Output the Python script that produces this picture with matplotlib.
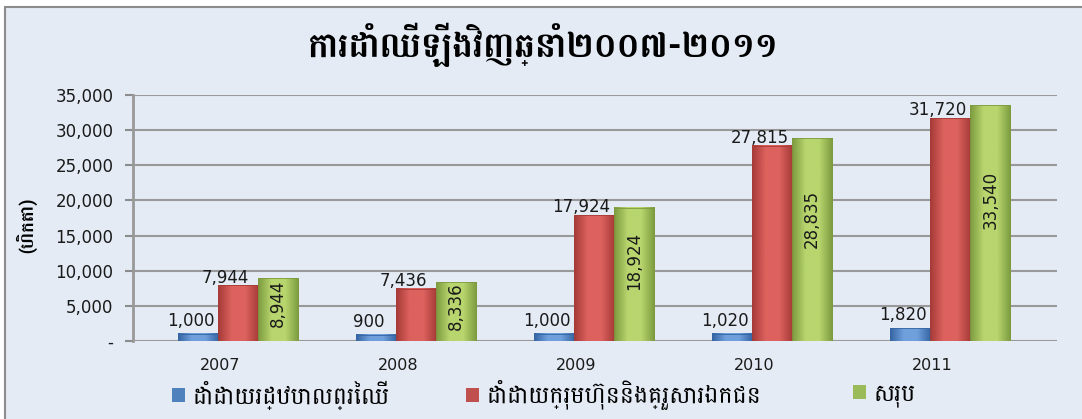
import numpy as np
import matplotlib
matplotlib.use("Agg")
import matplotlib.pyplot as plt
from matplotlib import font_manager
from matplotlib.ft2font import FT2Font
from matplotlib.colors import LinearSegmentedColormap
from matplotlib.patches import Rectangle

# data
years = ["2007", "2008", "2009", "2010", "2011"]
state = [1000, 900, 1000, 1020, 1820]
private = [7944, 7436, 17924, 27815, 31720]
total = [8944, 8336, 18924, 28835, 33540]
series_names = ["ដាំដោយរដ្ឋបាលព្រៃឈើ", "ដាំដោយក្រុមហ៊ុននិងគ្រួសារឯកជន", "សរុប"]
title = "ការដាំឈើឡើងវិញឆ្នាំ២០០៧-២០១១"
ylabel = "(ហិកតា)"
yticks = [0, 5000, 10000, 15000, 20000, 25000, 30000, 35000]

# look for a font that has khmer letters, prefer one with a bold face
khmer = {}
for f in font_manager.fontManager.ttflist:
    try:
        if 0x1780 in FT2Font(f.fname).get_charmap():
            khmer.setdefault(f.name, []).append(f.weight)
    except Exception:
        pass
names = sorted(khmer, key=lambda n: -max(w if isinstance(w, int) else 400 for w in khmer[n]))
kfam = names[:1] + ["DejaVu Sans"]

bg = "#E4EBF5"
fig = plt.figure(figsize=(10.82, 4.19), dpi=100, facecolor="white")
fig.patches.append(Rectangle((5/1082, -0.1), 1.2, (419-7)/419+0.1, transform=fig.transFigure,
                             facecolor=bg, edgecolor="#8C8C8C", lw=1.5, zorder=-5))
ax = fig.add_axes([133/1082, (419-341)/419, (1057-133)/1082, 246/419])
ax.set_facecolor("none")

x = np.arange(len(years))
w = 0.225
shift = 0.1
cols = [("#3565A3", "#6FA0DC"), ("#A53A37", "#DD625E"), ("#7C9B3E", "#B8D56E")]
vals = [state, private, total]

def gbar(xc, h, c):
    cm = LinearSegmentedColormap.from_list("g", [c[0], c[1], c[1], c[0]])
    g = np.linspace(0, 1, 64).reshape(1, -1)
    ax.imshow(g, extent=[xc - w/2, xc + w/2, 0, h], aspect="auto", cmap=cm, zorder=3)
    ax.add_patch(Rectangle((xc - w/2, 0), w, h, fill=False, edgecolor=c[0], lw=0.6, zorder=4))

for k in range(3):
    for i in range(len(years)):
        gbar(x[i] + shift + (k-1)*w, vals[k][i], cols[k])

fs = 12
for i in range(len(years)):
    ax.annotate(f"{state[i]:,}", (x[i] + shift - w, state[i]), xytext=(-5, 3),
                textcoords="offset points", ha="center", va="bottom", fontsize=fs, color="#1a1a1a", zorder=5)
    ax.annotate(f"{private[i]:,}", (x[i] + shift, private[i]), xytext=(-9, -1),
                textcoords="offset points", ha="center", va="bottom", fontsize=fs, color="#1a1a1a", zorder=5)
    ax.text(x[i] + shift + w, total[i]*0.6, f"{total[i]:,}", rotation=90, ha="center", va="center",
            fontsize=fs, color="#1a1a1a", zorder=5)

ax.set_xlim(-0.49, 4.70)
ax.set_ylim(0, 35000)
ax.set_yticks(yticks)
ax.set_yticklabels(["-"] + [f"{v:,}" for v in yticks[1:]], fontsize=fs, color="#1a1a1a")
ax.set_xticks(x)
ax.set_xticklabels(years, fontsize=11.5, color="#1a1a1a")
ax.tick_params(axis="x", length=0, pad=12)
ax.tick_params(axis="y", length=6, width=1.5, color="#8C8C8C", pad=8)
ax.yaxis.grid(True, color="#999999", lw=1.5, zorder=1)
ax.set_axisbelow(True)
for s in ["top", "right", "bottom"]:
    ax.spines[s].set_visible(False)
ax.spines["left"].set_color("#999999")
ax.spines["left"].set_linewidth(2)

fig.text(543/1082, 1 - 45/419, title, ha="center", va="center", fontsize=25, fontweight="bold",
         family=kfam)
fig.text(27/1082, 1 - 225/419, ylabel, rotation=90, ha="center", va="center", fontsize=13,
         fontweight="bold", family=kfam)

# one legend per entry so the squares sit where the reference has them
legx = [172, 466, 853]
for k, c in enumerate(["#4F81BD", "#C0504D", "#9BBB59"]):
    h = Rectangle((0, 0), 1, 1, fc=c, ec="none")
    fig.legend([h], [series_names[k]], loc="center left", bbox_to_anchor=(legx[k]/1082, 1 - 395/419),
               frameon=False, borderpad=0, borderaxespad=0, handlelength=0.55, handleheight=0.55,
               handletextpad=0.3, prop=dict(family=kfam, size=17))

fig.savefig("out.png", dpi=100, facecolor="white")
